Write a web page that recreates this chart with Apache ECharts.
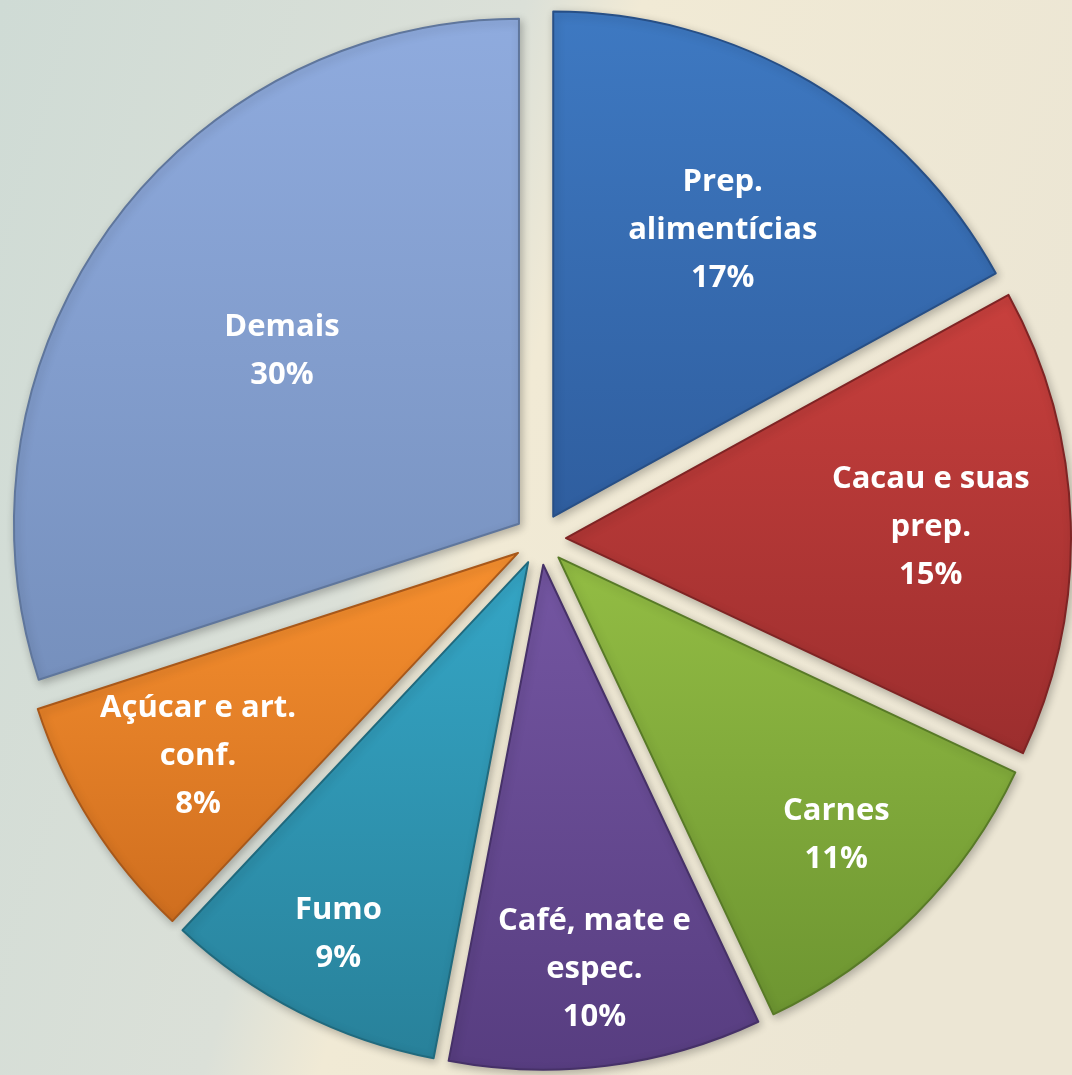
<!DOCTYPE html>
<html>
<head>
<meta charset="utf-8">
<script src="https://cdn.jsdelivr.net/npm/echarts@6/dist/echarts.min.js"></script>
<style>
html,body{margin:0;padding:0;background:#e3e3da;}
#chart{width:1072px;height:1075px;}
</style>
</head>
<body>
<div id="chart"></div>
<script>
// ---- data ----
const categories = ['Prep.\nalimentícias', 'Cacau e suas\nprep.', 'Carnes', 'Café, mate e\nespec.', 'Fumo', 'Açúcar e art.\nconf.', 'Demais'];
const values = [17, 15, 11, 10, 9, 8, 30];

// ---- style ----
const topColors = ['#3e79c2', '#c8403d', '#93bd44', '#7456a2', '#35a6c6', '#f7902f', '#8fabde'];
const bottomColors = ['#2f5e9f', '#9c2e2e', '#6d9531', '#573d80', '#28819a', '#cf6e1f', '#7690bd'];
const edgeColors = ['#274f86', '#7f2424', '#587a27', '#463168', '#206a7e', '#a8581a', '#5f769c'];
const labelRadius = [330, 362, 390, 405, 415, 376, 290]; // label distance from slice apex (px)

const CENTER = [540, 539];
const R = 505;
const OFFSET = 26;

const chart = echarts.init(document.getElementById('chart'), null, {renderer: 'canvas'});

const mainData = categories.map((c, i) => ({
  name: c,
  value: values[i],
  selected: true,
  itemStyle: {
    color: {
      type: 'linear', x: 0, y: 0, x2: 0, y2: 1,
      colorStops: [{offset: 0, color: topColors[i]}, {offset: 1, color: bottomColors[i]}]
    },
    borderColor: edgeColors[i]
  }
}));

const series = [{
  type: 'pie',
  center: CENTER,
  radius: [0, R],
  startAngle: 90,
  clockwise: true,
  selectedMode: 'multiple',
  selectedOffset: OFFSET,
  animation: false,
  silent: true,
  label: {show: false},
  labelLine: {show: false},
  itemStyle: {
    borderWidth: 2,
    shadowBlur: 8,
    shadowColor: 'rgba(0,0,0,0.25)',
    shadowOffsetX: 2,
    shadowOffsetY: 3
  },
  select: {itemStyle: {borderWidth: 2}},
  emphasis: {disabled: true},
  data: mainData,
  z: 2
}];

// transparent overlay rings that carry labels at the chosen radius
categories.forEach((c, k) => {
  series.push({
    type: 'pie',
    center: CENTER,
    radius: [labelRadius[k] - 20, labelRadius[k] + 20],
    startAngle: 90,
    clockwise: true,
    selectedMode: 'multiple',
    selectedOffset: OFFSET,
    animation: false,
    silent: true,
    itemStyle: {color: 'rgba(0,0,0,0)', borderWidth: 0},
    select: {itemStyle: {color: 'rgba(0,0,0,0)', borderWidth: 0}},
    emphasis: {disabled: true},
    labelLine: {show: false},
    label: {
      show: true,
      position: 'inside',
      rotate: 0,
      formatter: p => p.name + '\n' + p.value + '%',
      color: '#ffffff',
      fontFamily: 'Open Sans',
      fontWeight: 'bold',
      fontSize: 31,
      lineHeight: 48,
      align: 'center',
      textBorderWidth: 0
    },
    data: categories.map((n, i) => ({
      name: n, value: values[i], selected: true,
      label: {show: i === k}
    })),
    z: 5
  });
});

chart.setOption({
  animation: false,
  backgroundColor: {
    type: 'linear', x: 0, y: 0, x2: 1, y2: 0.3,
    colorStops: [
      {offset: 0, color: '#cfdbd5'},
      {offset: 0.45, color: '#dbe0d8'},
      {offset: 0.55, color: '#f1ead5'},
      {offset: 1, color: '#ece6d4'}
    ]
  },
  series: series
});
</script>
</body>
</html>
